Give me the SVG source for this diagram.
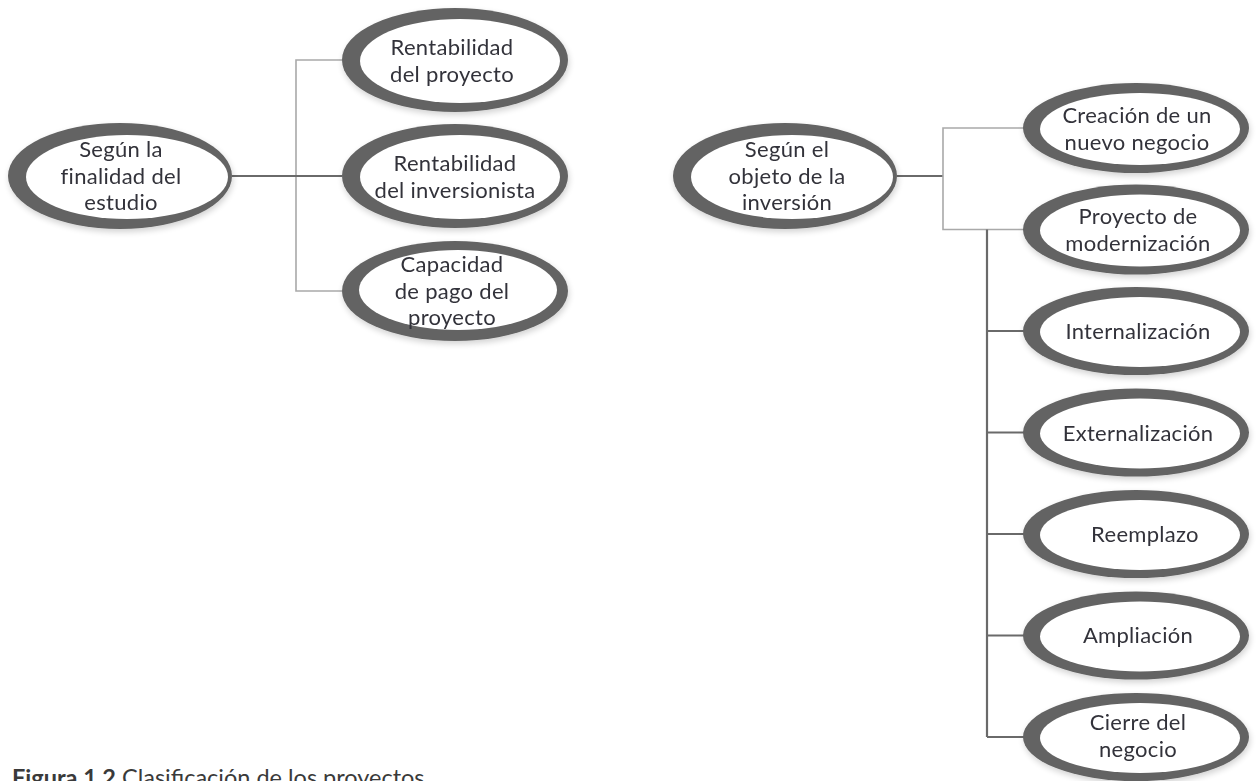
<svg xmlns="http://www.w3.org/2000/svg" width="1256" height="781" viewBox="0 0 1256 781">
<style>
  .outer { fill: #636363; }
  .inner { fill: #ffffff; }
  .lbl { font-family: Lato, "Open Sans", sans-serif; font-size: 22px; font-weight: 400; letter-spacing: 0.3px; fill: #33333a; text-anchor: middle; }
  .bus { fill: none; stroke: #a9a9a9; stroke-width: 1.6; }
  .main { fill: none; stroke: #6a6a6a; stroke-width: 2.2; }
  .cap { font-family: Lato, "Open Sans", sans-serif; font-size: 23.5px; fill: #3a3a3a; }
</style>
<defs>
  <filter id="sh" x="-20%" y="-30%" width="140%" height="160%">
    <feGaussianBlur in="SourceAlpha" stdDeviation="3"/>
    <feOffset dx="1" dy="3"/>
    <feComponentTransfer><feFuncA type="linear" slope="0.18"/></feComponentTransfer>
    <feMerge><feMergeNode/><feMergeNode in="SourceGraphic"/></feMerge>
  </filter>
</defs>
<rect width="1256" height="781" fill="#ffffff"/>
<g id="connectors">
  <path class="bus" d="M342,60 H296 V291 H342"/>
  <path class="main" d="M232,176 H342"/>
  <path class="main" d="M897,176 H943"/>
  <path class="bus" d="M1024,128 H943 V229.5 H1024"/>
  <path class="main" d="M987,229.5 V737 M987,331 H1024 M987,432.5 H1024 M987,534 H1024 M987,635.5 H1024 M987,737 H1024"/>
</g>
<g id="n-finalidad" filter="url(#sh)">
  <ellipse class="outer" cx="120" cy="176" rx="112" ry="53"/>
  <ellipse class="inner" cx="127" cy="177" rx="101" ry="42"/>
  <text class="lbl" x="121" y="157">Según la</text>
  <text class="lbl" x="121" y="184">finalidad del</text>
  <text class="lbl" x="121" y="210">estudio</text>
</g>
<g id="n-rent-proyecto" filter="url(#sh)">
  <ellipse class="outer" cx="455" cy="60" rx="113" ry="52"/>
  <ellipse class="inner" cx="460" cy="61" rx="100" ry="42"/>
  <text class="lbl" x="452" y="55">Rentabilidad</text>
  <text class="lbl" x="452" y="82">del proyecto</text>
</g>
<g id="n-rent-inversionista" filter="url(#sh)">
  <ellipse class="outer" cx="455" cy="176" rx="113" ry="52"/>
  <ellipse class="inner" cx="460" cy="177" rx="100" ry="42"/>
  <text class="lbl" x="455" y="171">Rentabilidad</text>
  <text class="lbl" x="455" y="198">del inversionista</text>
</g>
<g id="n-capacidad" filter="url(#sh)">
  <ellipse class="outer" cx="455" cy="291" rx="113" ry="50"/>
  <ellipse class="inner" cx="458" cy="290" rx="99" ry="40"/>
  <text class="lbl" x="452" y="272">Capacidad</text>
  <text class="lbl" x="452" y="299">de pago del</text>
  <text class="lbl" x="452" y="325">proyecto</text>
</g>
<g id="n-objeto" filter="url(#sh)">
  <ellipse class="outer" cx="785" cy="176" rx="112" ry="53"/>
  <ellipse class="inner" cx="792" cy="177" rx="101" ry="42"/>
  <text class="lbl" x="787" y="157">Según el</text>
  <text class="lbl" x="787" y="184">objeto de la</text>
  <text class="lbl" x="787" y="210">inversión</text>
</g>
<g id="n-creacion" filter="url(#sh)">
  <ellipse class="outer" cx="1136" cy="128" rx="113" ry="45"/>
  <ellipse class="inner" cx="1140" cy="129" rx="100" ry="36"/>
  <text class="lbl" x="1137" y="123">Creación de un</text>
  <text class="lbl" x="1137" y="150">nuevo negocio</text>
</g>
<g id="n-modernizacion" filter="url(#sh)">
  <ellipse class="outer" cx="1136" cy="229.5" rx="113" ry="45"/>
  <ellipse class="inner" cx="1140" cy="230.5" rx="100" ry="36"/>
  <text class="lbl" x="1138" y="224">Proyecto de</text>
  <text class="lbl" x="1138" y="251">modernización</text>
</g>
<g id="n-internalizacion" filter="url(#sh)">
  <ellipse class="outer" cx="1136" cy="331" rx="113" ry="44"/>
  <ellipse class="inner" cx="1140" cy="332" rx="100" ry="35"/>
  <text class="lbl" x="1138" y="339">Internalización</text>
</g>
<g id="n-externalizacion" filter="url(#sh)">
  <ellipse class="outer" cx="1136" cy="432.5" rx="113" ry="44"/>
  <ellipse class="inner" cx="1140" cy="433.5" rx="100" ry="35"/>
  <text class="lbl" x="1138" y="441">Externalización</text>
</g>
<g id="n-reemplazo" filter="url(#sh)">
  <ellipse class="outer" cx="1136" cy="534" rx="113" ry="44"/>
  <ellipse class="inner" cx="1140" cy="535" rx="100" ry="35"/>
  <text class="lbl" x="1145" y="542">Reemplazo</text>
</g>
<g id="n-ampliacion" filter="url(#sh)">
  <ellipse class="outer" cx="1136" cy="635.5" rx="113" ry="44"/>
  <ellipse class="inner" cx="1140" cy="636.5" rx="100" ry="35"/>
  <text class="lbl" x="1138" y="643">Ampliación</text>
</g>
<g id="n-cierre" filter="url(#sh)">
  <ellipse class="outer" cx="1136" cy="737" rx="113" ry="44"/>
  <ellipse class="inner" cx="1140" cy="738" rx="100" ry="35"/>
  <text class="lbl" x="1138" y="730">Cierre del</text>
  <text class="lbl" x="1138" y="757">negocio</text>
</g>
<g id="caption">
  <text class="cap" x="12" y="786"><tspan font-weight="bold">Figura 1.2</tspan> Clasificación de los proyectos</text>
</g>
</svg>
